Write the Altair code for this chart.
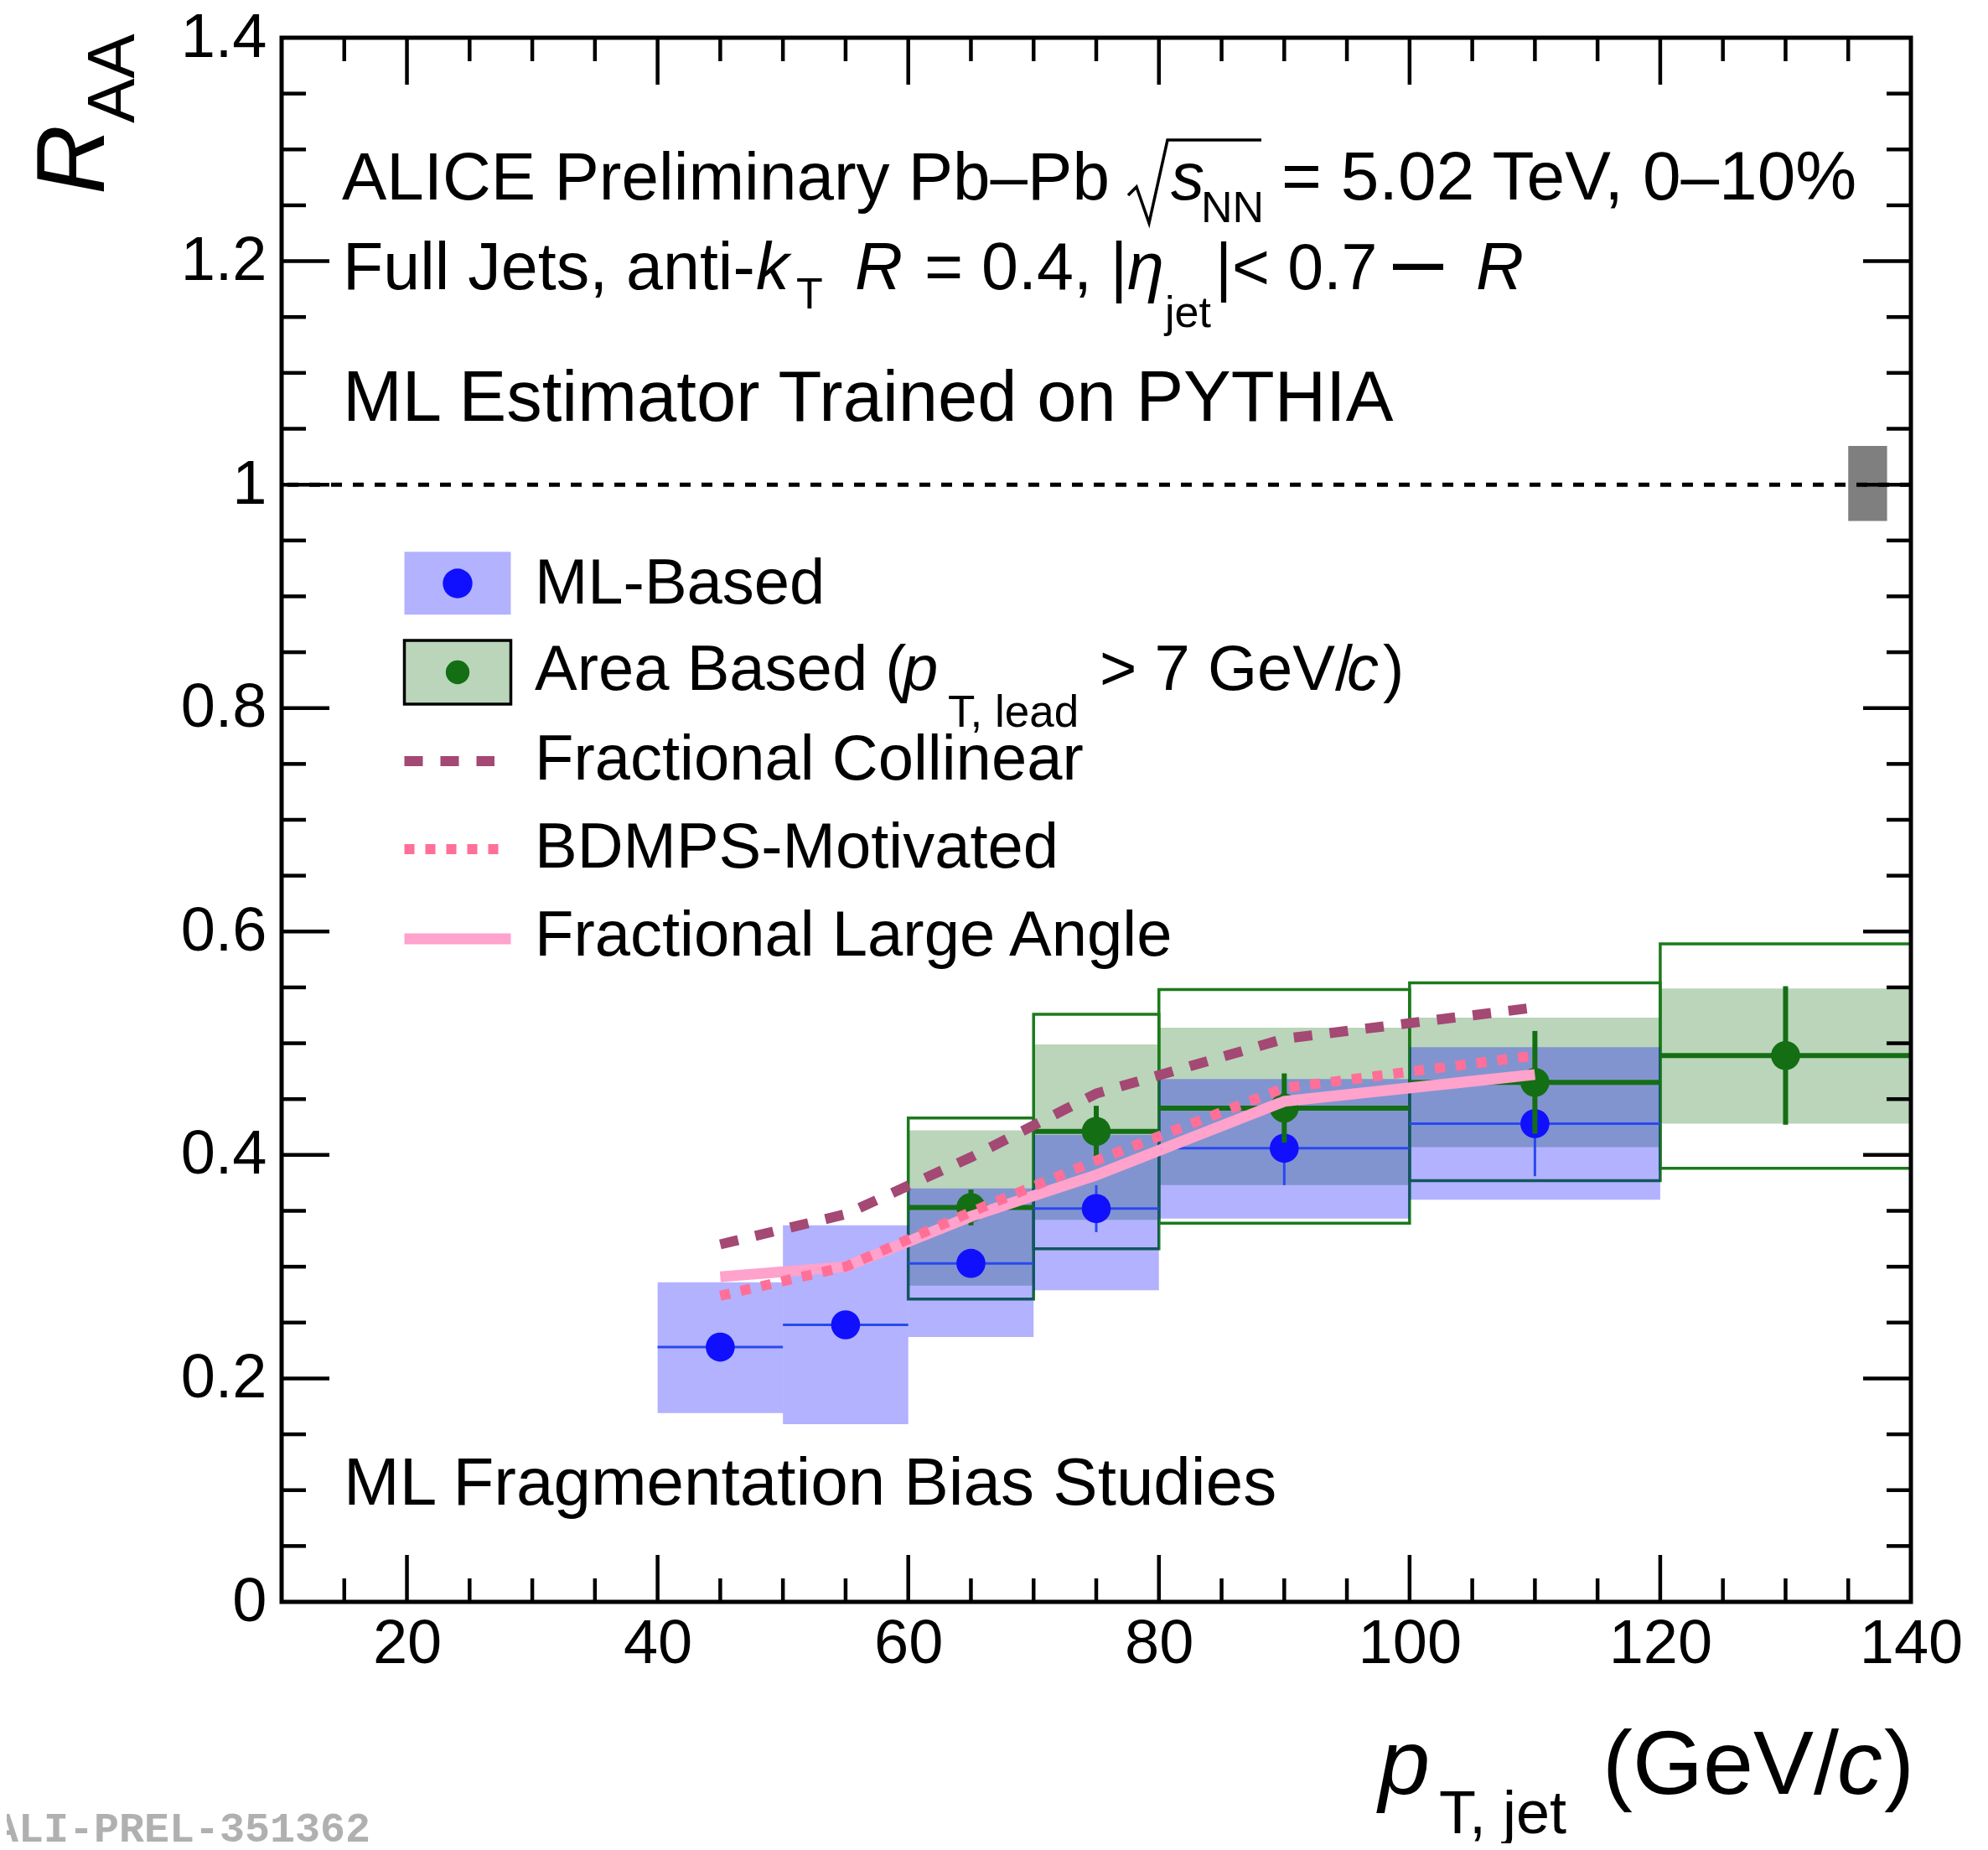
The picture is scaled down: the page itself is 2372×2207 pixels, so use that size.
import altair as alt
import pandas as pd

FONT = "Liberation Sans"

# ---------------- values ----------------
# ML-Based (blue)
ml_lo = [40, 50, 60, 70, 80, 100]
ml_hi = [50, 60, 70, 80, 100, 120]
ml_x = [45, 55, 65, 75, 90, 110]
ml_y = [0.228, 0.248, 0.303, 0.352, 0.406, 0.428]
ml_stat = [0.010, 0.010, 0.012, 0.021, 0.033, 0.047]
ml_sys_lo = [0.169, 0.159, 0.237, 0.279, 0.343, 0.360]
ml_sys_hi = [0.286, 0.337, 0.370, 0.418, 0.468, 0.4965]

# Area Based (green)
area_lo = [60, 70, 80, 100, 120]
area_hi = [70, 80, 100, 120, 140]
area_x = [65, 75, 90, 110, 130]
area_y = [0.353, 0.421, 0.442, 0.465, 0.489]
area_stat = [0.016, 0.023, 0.031, 0.046, 0.062]
area_sys_lo = [0.283, 0.342, 0.373, 0.407, 0.428]
area_sys_hi = [0.422, 0.499, 0.514, 0.523, 0.549]
area_box_lo = [0.271, 0.316, 0.339, 0.377, 0.388]
area_box_hi = [0.433, 0.526, 0.548, 0.554, 0.589]

# model curves
model_x = [45, 55, 65, 75, 90, 110]
frac_collinear = [0.320, 0.347, 0.398, 0.455, 0.504, 0.532]
bdmps = [0.274, 0.300, 0.349, 0.395, 0.460, 0.489]
frac_large_angle = [0.291, 0.300, 0.345, 0.382, 0.448, 0.472]

# normalisation uncertainty box at unity
norm_x = [135.0]
norm_x2 = [138.1]
norm_lo = [0.9675]
norm_hi = [1.0346]

# axes
x_labels = [20, 40, 60, 80, 100, 120, 140]
y_labels = [0, 0.2, 0.4, 0.6, 0.8, 1.0, 1.2, 1.4]
x_major = [20, 40, 60, 80, 100, 120]
x_minor = [v for v in range(15, 140, 5) if v % 20 != 0]
y_major = [0.2, 0.4, 0.6, 0.8, 1.0, 1.2]
y_minor = [round(i * 0.05, 2) for i in range(1, 28) if i % 4 != 0]

# ---------------- layout ----------------
W, H = 1944, 1866
PX0, PY0 = 336, 45  # plot-area origin in the reference picture


def gx(px):
    return 10 + (px - PX0) * 130.0 / W


def gy(py):
    return (PY0 + H - py) * 1.4 / H


xs = alt.Scale(domain=[10, 140], nice=False, zero=False)
ys = alt.Scale(domain=[0, 1.4], nice=False, zero=False)
x_axis = alt.Axis(values=x_labels, title=None, labelFontSize=74, labelFont=FONT,
                  labelColor="black", ticks=False, tickSize=0, domain=False, grid=False,
                  labelPadding=14, labelFlush=False, labelOverlap=False)
y_axis = alt.Axis(values=y_labels, format=".1~f", title=None, labelFontSize=74,
                  labelFont=FONT, labelColor="black", ticks=False, tickSize=0,
                  domain=False, grid=False, labelPadding=18, labelFlush=False,
                  labelOverlap=False)


def X(f):
    return alt.X(f, type="quantitative", scale=xs, axis=x_axis)


def Y(f):
    return alt.Y(f, type="quantitative", scale=ys, axis=y_axis)


ml_df = pd.DataFrame({
    "lo": ml_lo, "hi": ml_hi, "x": ml_x, "y": ml_y,
    "elo": [y - e for y, e in zip(ml_y, ml_stat)],
    "ehi": [y + e for y, e in zip(ml_y, ml_stat)],
    "slo": ml_sys_lo, "shi": ml_sys_hi,
})
area_df = pd.DataFrame({
    "lo": area_lo, "hi": area_hi, "x": area_x, "y": area_y,
    "elo": [y - e for y, e in zip(area_y, area_stat)],
    "ehi": [y + e for y, e in zip(area_y, area_stat)],
    "slo": area_sys_lo, "shi": area_sys_hi,
    "blo": area_box_lo, "bhi": area_box_hi,
})

C_BLUE = "#1010ff"
C_BLUE_LINE = "#2a48f0"
C_GREEN = "#146e14"
C_COLL = "#a44874"
C_BDMPS = "#ff6f98"
C_LA = "#ffa2cc"

layers = []

# green filled systematics
layers.append(alt.Chart(area_df).mark_rect(fill="#006400", fillOpacity=0.27).encode(
    x=X("lo"), x2="hi", y=Y("slo"), y2="shi"))
# green open boxes
layers.append(alt.Chart(area_df).mark_rect(fillOpacity=0, stroke="#1b7a1b", strokeWidth=3.5).encode(
    x=X("lo"), x2="hi", y=Y("blo"), y2="bhi"))
# blue systematics
layers.append(alt.Chart(ml_df).mark_rect(fill="#0000ff", fillOpacity=0.3).encode(
    x=X("lo"), x2="hi", y=Y("slo"), y2="shi"))
# blue error bars + points
layers.append(alt.Chart(ml_df).mark_rule(color=C_BLUE_LINE, strokeWidth=3).encode(
    x=X("lo"), x2="hi", y=Y("y")))
layers.append(alt.Chart(ml_df).mark_rule(color=C_BLUE_LINE, strokeWidth=3).encode(
    x=X("x"), y=Y("elo"), y2="ehi"))
layers.append(alt.Chart(ml_df).mark_circle(size=1200, color=C_BLUE, opacity=1).encode(
    x=X("x"), y=Y("y")))
# green error bars + points
layers.append(alt.Chart(area_df).mark_rule(color=C_GREEN, strokeWidth=6).encode(
    x=X("lo"), x2="hi", y=Y("y")))
layers.append(alt.Chart(area_df).mark_rule(color=C_GREEN, strokeWidth=6).encode(
    x=X("x"), y=Y("elo"), y2="ehi"))
layers.append(alt.Chart(area_df).mark_circle(size=1200, color=C_GREEN, opacity=1).encode(
    x=X("x"), y=Y("y")))

# model curves
la_df = pd.DataFrame({"x": model_x, "y": frac_large_angle})
bd_df = pd.DataFrame({"x": model_x, "y": bdmps})
co_df = pd.DataFrame({"x": model_x, "y": frac_collinear})
layers.append(alt.Chart(la_df).mark_line(color=C_LA, strokeWidth=13).encode(x=X("x"), y=Y("y")))
layers.append(alt.Chart(bd_df).mark_line(color=C_BDMPS, strokeWidth=12, strokeDash=[12, 13]).encode(
    x=X("x"), y=Y("y")))
layers.append(alt.Chart(co_df).mark_line(color=C_COLL, strokeWidth=12, strokeDash=[22, 21]).encode(
    x=X("x"), y=Y("y")))

# normalisation box and unity line
norm_df = pd.DataFrame({"x": norm_x, "x2": norm_x2, "lo": norm_lo, "hi": norm_hi})
layers.append(alt.Chart(norm_df).mark_rect(fill="#7f7f7f").encode(
    x=X("x"), x2="x2", y=Y("lo"), y2="hi"))
layers.append(alt.Chart(pd.DataFrame({"y": [1.0]})).mark_rule(
    color="black", strokeWidth=5, strokeDash=[13, 13]).encode(y=Y("y")))

# ---------------- legend (placed in data units) ----------------
leg_box = pd.DataFrame({
    "x": [gx(482.5)] * 2, "x2": [gx(609.5)] * 2,
    "y": [gy(733.3), gy(840)], "y2": [gy(658.3), gy(764)],
    "k": ["ml", "area"],
})
layers.append(alt.Chart(leg_box[leg_box.k == "ml"]).mark_rect(fill="#0000ff", fillOpacity=0.3).encode(
    x=X("x"), x2="x2", y=Y("y"), y2="y2"))
layers.append(alt.Chart(leg_box[leg_box.k == "area"]).mark_rect(
    fill="#006400", fillOpacity=0.27, stroke="black", strokeWidth=3.5).encode(
    x=X("x"), x2="x2", y=Y("y"), y2="y2"))
layers.append(alt.Chart(pd.DataFrame({"x": [gx(546)], "y": [gy(696)]})).mark_circle(
    size=1250, color=C_BLUE, opacity=1).encode(x=X("x"), y=Y("y")))
layers.append(alt.Chart(pd.DataFrame({"x": [gx(546)], "y": [gy(802)]})).mark_circle(
    size=800, color=C_GREEN, opacity=1).encode(x=X("x"), y=Y("y")))
layers.append(alt.Chart(pd.DataFrame({"x": [gx(482.5)], "x2": [gx(590)], "y": [gy(908)]})).mark_rule(
    color=C_COLL, strokeWidth=12, strokeDash=[22, 21]).encode(x=X("x"), x2="x2", y=Y("y")))
layers.append(alt.Chart(pd.DataFrame({"x": [gx(482.5)], "x2": [gx(597)], "y": [gy(1013)]})).mark_rule(
    color=C_BDMPS, strokeWidth=12, strokeDash=[12, 13]).encode(x=X("x"), x2="x2", y=Y("y")))
layers.append(alt.Chart(pd.DataFrame({"x": [gx(482.5)], "x2": [gx(609.5)], "y": [gy(1120)]})).mark_rule(
    color=C_LA, strokeWidth=13).encode(x=X("x"), x2="x2", y=Y("y")))

# square-root sign (drawn as strokes, as TLatex does)
sqrt_px = [(1346, 233), (1356, 223), (1371, 266), (1393, 167), (1505, 167)]
sqrt_df = pd.DataFrame({"x": [gx(p[0]) for p in sqrt_px], "y": [gy(p[1]) for p in sqrt_px]})
layers.append(alt.Chart(sqrt_df).mark_line(color="black", strokeWidth=3.5).encode(
    x=X("x"), y=Y("y")))

# ---------------- texts ----------------
normal_txt = [
    ("ALICE Preliminary Pb\u2013Pb", 408, 238, 80),
    ("NN", 1433, 265, 52),
    ("= 5.02 TeV, 0\u201310%", 1529, 238, 82),
    ("Full Jets, anti-", 409, 345, 79),
    ("T", 950, 368, 52),
    ("= 0.4, |", 1103, 345, 79),
    ("jet", 1390, 390, 52),
    ("|< 0.7", 1450, 345, 77),
    ("\u2013", 1662, 346, 108),
    ("ML Estimator Trained on PYTHIA", 409, 502, 85),
    ("ML Fragmentation Bias Studies", 410, 1795, 80),
    ("ML-Based", 638, 720, 76),
    ("Area Based (", 638, 823, 76),
    ("T, lead", 1131, 867, 53),
    ("> 7 GeV/", 1312, 823, 76),
    (")", 1650, 823, 76),
    ("Fractional Collinear", 638, 930, 76),
    ("BDMPS-Motivated", 638, 1035, 76),
    ("Fractional Large Angle", 638, 1140, 76),
    ("(GeV/", 1912, 2140, 108),
    (")", 2248, 2140, 108),
    ("T, jet", 1717, 2187, 72),
]
italic_txt = [
    ("s", 1397, 238, 80),
    ("k", 902, 345, 79),
    ("R", 1020, 345, 79),
    ("\u03b7", 1345, 345, 79),
    ("R", 1761, 345, 79),
    ("p", 1077, 823, 76),
    ("c", 1607, 823, 76),
    ("p", 1645, 2140, 110),
    ("c", 2192, 2140, 108),
]


def text_df(rows):
    return pd.DataFrame({
        "t": [r[0] for r in rows],
        "x": [gx(r[1]) for r in rows],
        "y": [gy(r[2]) for r in rows],
        "s": [r[3] for r in rows],
    })


def text_layer(rows, **kw):
    return alt.Chart(text_df(rows)).mark_text(
        align="left", baseline="alphabetic", font=FONT, color="black", **kw).encode(
        x=X("x"), y=Y("y"), text="t:N", size=alt.Size("s:Q", scale=None, legend=None))


layers.append(text_layer(normal_txt))
layers.append(text_layer(italic_txt, fontStyle="italic"))
layers.append(text_layer([("R", 124, 232, 115)], fontStyle="italic", angle=270))
layers.append(text_layer([("AA", 160, 147, 80)], angle=270))
layers.append(alt.Chart(text_df([("ALI-PREL-351362", -8, 2197, 50)])).mark_text(
    align="left", baseline="alphabetic", font="Liberation Mono", fontWeight="bold",
    color="#b0b0b0").encode(x=X("x"), y=Y("y"), text="t:N",
                            size=alt.Size("s:Q", scale=None, legend=None)))


# ---------------- inward ticks on all four sides ----------------
def ticks_layer(vals, length, side):
    m = alt.Chart(pd.DataFrame({"v": vals})).mark_rule(color="black", strokeWidth=4.5)
    if side == "bottom":
        return m.encode(x=X("v"), y=alt.value(H), y2=alt.value(H - length))
    if side == "top":
        return m.encode(x=X("v"), y=alt.value(0), y2=alt.value(length))
    if side == "left":
        return m.encode(y=Y("v"), x=alt.value(0), x2=alt.value(length))
    return m.encode(y=Y("v"), x=alt.value(W), x2=alt.value(W - length))


for side in ["bottom", "top"]:
    layers.append(ticks_layer(x_major, 56, side))
    layers.append(ticks_layer(x_minor, 28, side))
for side in ["left", "right"]:
    layers.append(ticks_layer(y_major, 57, side))
    layers.append(ticks_layer(y_minor, 29, side))

# frame around the plot area
frame_df = pd.DataFrame({"x": [10], "x2": [140], "y": [0.0], "y2": [1.4]})
layers.append(alt.Chart(frame_df).mark_rect(fillOpacity=0, stroke="black", strokeWidth=5).encode(
    x=X("x"), x2="x2", y=Y("y"), y2="y2"))

chart = alt.layer(*layers).properties(
    width=W, height=H,
    padding={"left": 328, "top": 37, "right": 60, "bottom": 288},
    autosize=alt.AutoSizeParams(type="none"),
).configure_view(stroke="black", strokeWidth=5).configure(background="white")

chart.save("out.html", embed_options={"renderer": "svg", "actions": False})
